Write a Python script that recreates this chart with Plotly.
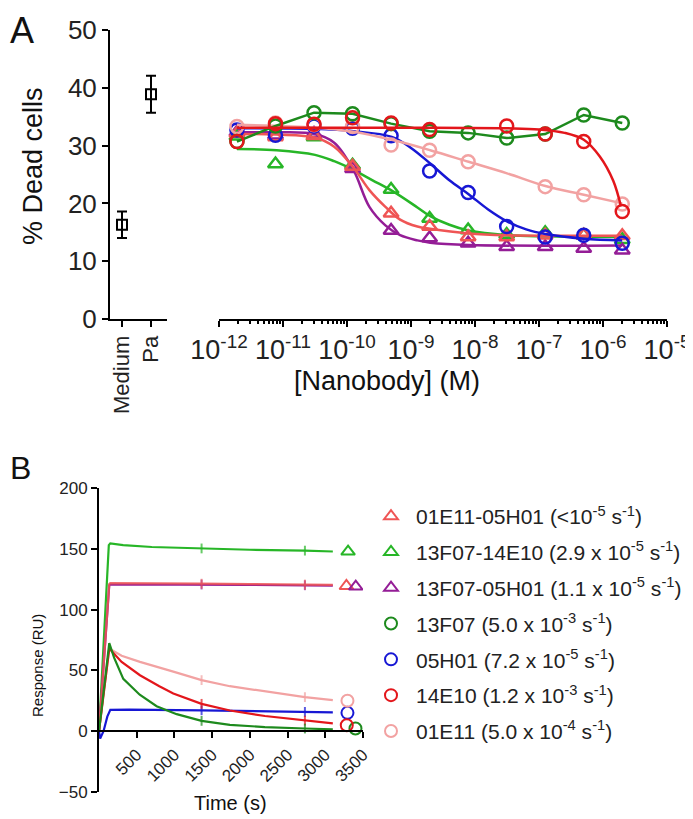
import numpy as np
import plotly.graph_objects as go

# the page body has an 8px margin, so the figure is drawn 8px smaller and
# reference pixel positions are shifted by that amount
OFF = 8
W, H = 693 - OFF, 819 - OFF
FONT = "Arial, 'Liberation Sans', sans-serif"


def px(x):
    return (x - OFF) / W


def py(y):
    return 1 - (y - OFF) / H


# ---------------- panel A data ----------------
controls = ["Medium", "Pa"]
control_mean = [16.3, 38.9]
control_err = [2.3, 3.2]

# 4-fold dilution series (M), low -> high
conc = [1.907e-12, 7.629e-12, 3.052e-11, 1.221e-10, 4.883e-10, 1.953e-9,
        7.8125e-9, 3.125e-8, 1.25e-7, 5e-7, 2e-6]

dead_13F07 = [30.7, 33.4, 35.7, 35.5, 33.8, 32.5, 32.2, 31.3, 32.0, 35.3, 33.9]
dead_14E10 = [30.7, 33.8, 33.7, 34.8, 33.9, 32.8, None, 33.4, 32.0, 30.7, 18.6]
dead_01E11 = [33.3, 33.9, 33.6, 33.3, 30.1, 29.2, 27.2, None, 22.9, 21.5, 19.9]
dead_05H01 = [32.7, 31.8, 33.4, 33.0, 31.7, 25.6, 21.9, 16.0, 14.2, 14.5, 13.1]
dead_13F07_14E10 = [31.6, 26.8, 31.5, 26.6, 22.4, 17.4, 15.4, 14.6, 14.9, 14.5, 13.7]
dead_01E11_05H01 = [32.1, 31.5, 31.7, 26.4, 18.3, 16.0, 14.2, 14.2, 14.5, 14.5, 14.4]
dead_13F07_05H01 = [32.3, 31.8, 32.1, 26.0, 15.3, 14.0, 13.1, 12.5, 12.5, 12.2, 11.9]

# fitted curves (log10 M, % dead)
fit_14E10_logx = [-11.72, -9.0, -7.5, -7.0, -6.6, -6.3, -6.05, -5.84, -5.72]
fit_14E10_y = [33.1, 33.1, 33.0, 32.8, 32.2, 31.0, 28.1, 23.9, 19.5]
fit_01E11_logx = [-11.72, -10.5, -9.9, -9.3, -8.7, -8.1, -7.5, -6.9, -6.3, -5.7]
fit_01E11_y = [33.6, 33.1, 32.4, 31.0, 29.2, 27.2, 25.2, 23.0, 21.5, 20.0]
fit_05H01_logx = [-11.72, -10.5, -9.9, -9.3, -9.0, -8.7, -8.4, -8.1, -7.8, -7.5,
                  -7.2, -6.9, -6.3, -5.7]
fit_05H01_y = [33.0, 32.9, 32.5, 31.5, 29.6, 26.9, 24.0, 21.6, 19.0, 16.9,
               15.5, 14.7, 13.9, 13.6]
fit_13F07_14E10_logx = [-11.72, -11.1, -10.5, -10.2, -9.9, -9.6, -9.3, -8.9,
                        -8.7, -8.4, -8.1, -7.5, -6.9, -5.7]
fit_13F07_14E10_y = [29.4, 29.2, 28.4, 27.3, 25.8, 24.0, 22.2, 19.3,
                     17.8, 16.3, 15.3, 14.5, 14.3, 14.2]
fit_01E11_05H01_logx = [-11.72, -11.1, -10.5, -10.2, -9.9, -9.65, -9.4, -9.17,
                        -8.9, -8.7, -8.1, -7.5, -5.7]
fit_01E11_05H01_y = [32.0, 31.9, 31.4, 29.8, 26.2, 22.3, 19.4, 17.2,
                     16.0, 15.6, 14.8, 14.5, 14.4]
fit_13F07_05H01_logx = [-11.72, -11.1, -10.5, -10.2, -9.9, -9.65, -9.4, -9.17,
                        -8.9, -8.7, -8.1, -5.7]
fit_13F07_05H01_y = [32.3, 32.3, 32.0, 30.5, 25.8, 19.4, 16.2, 14.5,
                     13.6, 13.2, 12.8, 12.7]

# ---------------- panel B data ----------------
t_13F07_14E10 = [0, 130, 150, 320, 700, 1360, 2000, 2730, 3100]
ru_13F07_14E10 = [0, 153.0, 154.5, 153.0, 151.5, 150.3, 149.2, 148.5, 147.8]
t_13F07_05H01 = [0, 136, 150, 400, 1360, 2000, 2730, 3100]
ru_13F07_05H01 = [0, 120.0, 120.8, 120.8, 120.6, 120.3, 120.0, 119.7]
t_01E11_05H01 = [0, 136, 150, 400, 1360, 2000, 2730, 3100]
ru_01E11_05H01 = [0, 121.0, 121.8, 121.6, 121.3, 121.0, 120.6, 120.3]
t_13F07 = [0, 136, 200, 322, 540, 764, 1030, 1360, 1735, 2200, 2730, 3100]
ru_13F07 = [0, 72.5, 60.5, 43.0, 30.0, 20.5, 14.0, 8.5, 5.2, 3.4, 2.2, 1.5]
t_14E10 = [0, 136, 300, 543, 800, 985, 1360, 1735, 2200, 2730, 3100]
ru_14E10 = [0, 68.0, 57.0, 46.0, 37.0, 31.0, 22.5, 17.0, 12.5, 8.7, 6.5]
t_01E11 = [0, 136, 300, 543, 985, 1360, 1735, 2177, 2730, 3100]
ru_01E11 = [0, 68.0, 62.0, 57.0, 49.0, 42.0, 37.0, 33.0, 28.0, 25.5]
t_05H01 = [0, 15, 60, 110, 150, 400, 1360, 2000, 2730, 3100]
ru_05H01 = [0, -6.0, 0.0, 12.0, 17.5, 17.8, 17.2, 16.6, 15.9, 15.5]
tick_times = [1360, 2730]

legend_names = [
    "01E11-05H01 (&lt;10<sup>-5</sup> s<sup>-1</sup>)",
    "13F07-14E10 (2.9 x 10<sup>-5</sup> s<sup>-1</sup>)",
    "13F07-05H01 (1.1 x 10<sup>-5</sup> s<sup>-1</sup>)",
    "13F07 (5.0 x 10<sup>-3</sup> s<sup>-1</sup>)",
    "05H01 (7.2 x 10<sup>-5</sup> s<sup>-1</sup>)",
    "14E10 (1.2 x 10<sup>-3</sup> s<sup>-1</sup>)",
    "01E11 (5.0 x 10<sup>-4</sup> s<sup>-1</sup>)",
]
end_t = [3280, 3302, 3404, 3400, 3294, 3285, 3294]
end_ru = [119.4, 147.7, 118.9, 2.2, 15.1, 4.9, 25.0]

C_SALMON = "#ef5555"
C_GREEN = "#27b627"
C_PURPLE = "#941d96"
C_DKGREEN = "#1d8a1d"
C_BLUE = "#1717d4"
C_RED = "#e3161b"
C_PINK = "#f2a2a2"

fig = go.Figure()

# controls
fig.add_scatter(x=controls, y=control_mean, mode="markers", xaxis="x", yaxis="y",
                marker=dict(symbol="square-open", size=10, color="black", line=dict(width=2)),
                error_y=dict(type="data", array=control_err, color="black", thickness=2, width=5),
                showlegend=False)

conc_series = [
    (dead_13F07_14E10, fit_13F07_14E10_logx, fit_13F07_14E10_y, C_GREEN, "triangle-up-open"),
    (dead_13F07_05H01, fit_13F07_05H01_logx, fit_13F07_05H01_y, C_PURPLE, "triangle-up-open"),
    (dead_01E11_05H01, fit_01E11_05H01_logx, fit_01E11_05H01_y, C_SALMON, "triangle-up-open"),
    (dead_05H01, fit_05H01_logx, fit_05H01_y, C_BLUE, "circle-open"),
    (dead_01E11, fit_01E11_logx, fit_01E11_y, C_PINK, "circle-open"),
    (dead_13F07, None, None, C_DKGREEN, "circle-open"),
    (dead_14E10, fit_14E10_logx, fit_14E10_y, C_RED, "circle-open"),
]
for vals, fx, fy, col, sym in conc_series:
    if fx is None:
        fig.add_scatter(x=conc, y=vals, mode="lines+markers", xaxis="x2", yaxis="y",
                        line=dict(color=col, width=2.5), connectgaps=True,
                        marker=dict(symbol=sym, size=13, color=col, line=dict(width=2.5)),
                        showlegend=False)
    else:
        fig.add_scatter(x=np.power(10.0, fx), y=fy, mode="lines", xaxis="x2", yaxis="y",
                        line=dict(color=col, width=2.5, shape="spline"), showlegend=False)
        fig.add_scatter(x=conc, y=vals, mode="markers", xaxis="x2", yaxis="y",
                        marker=dict(symbol=sym, size=13, color=col, line=dict(width=2.5)),
                        showlegend=False)

# sensorgrams
sensor = [
    (t_13F07_14E10, ru_13F07_14E10, C_GREEN, 1.0),
    (t_13F07_05H01, ru_13F07_05H01, C_PURPLE, 1.0),
    (t_01E11_05H01, ru_01E11_05H01, C_SALMON, 0.85),
    (t_01E11, ru_01E11, C_PINK, 1.0),
    (t_05H01, ru_05H01, C_BLUE, 1.0),
    (t_14E10, ru_14E10, C_RED, 1.0),
    (t_13F07, ru_13F07, C_DKGREEN, 1.0),
]
for t, ru, col, op in sensor:
    sizes = [7 if tt in tick_times else 0 for tt in t]
    fig.add_scatter(x=t, y=ru, mode="lines+markers", xaxis="x3", yaxis="y2", opacity=op,
                    line=dict(color=col, width=2.2),
                    marker=dict(symbol="line-ns", size=sizes, color=col, line=dict(width=2, color=col)),
                    showlegend=False)

end_cols = [C_SALMON, C_GREEN, C_PURPLE, C_DKGREEN, C_BLUE, C_RED, C_PINK]
end_syms = ["triangle-up-open"] * 3 + ["circle-open"] * 4
for i, name in enumerate(legend_names):
    fig.add_scatter(x=[end_t[i]], y=[end_ru[i]], mode="markers", xaxis="x3", yaxis="y2",
                    name=name, legendgroup=f"g{i}",
                    marker=dict(symbol=end_syms[i], size=12, color=end_cols[i],
                                line=dict(width=2, color=end_cols[i])))

axis_common = dict(showline=True, linecolor="black", linewidth=2, ticks="outside",
                   ticklen=6, tickwidth=2, tickcolor="black", showgrid=False, zeroline=False,
                   automargin=False)

# panel B axis placement
b_dom = [py(792), py(488)]
b_rng = [-50, 200]
b_zero = b_dom[0] + (0 - b_rng[0]) / (b_rng[1] - b_rng[0]) * (b_dom[1] - b_dom[0])

fig.update_layout(
    width=W, height=H, margin=dict(l=0, r=0, t=0, b=0, autoexpand=False),
    paper_bgcolor="white", plot_bgcolor="white",
    font=dict(family=FONT, color="#222222"),
    xaxis=dict(**axis_common, domain=[px(110), px(167)], range=[-0.414, 1.552], type="category",
               anchor="y", tickangle=-90, tickfont=dict(size=22)),
    xaxis2=dict(**axis_common, domain=[px(219), px(667)], type="log", range=[-12, -5], anchor="y",
                tickvals=[10.0 ** e for e in range(-12, -4)],
                ticktext=[f"10<sup>{e}</sup>" for e in range(-12, -4)],
                tickangle=0, tickfont=dict(size=27),
                minor=dict(ticks="outside", ticklen=3, tickwidth=1.5, tickcolor="black",
                           tickvals=[m * 10.0 ** e for e in range(-12, -5) for m in range(2, 10)])),
    yaxis=dict(**axis_common, domain=[py(319), py(30)], range=[0, 50], dtick=10,
               anchor="x", tickfont=dict(size=26)),
    xaxis3=dict(**axis_common, domain=[px(99), px(363)], range=[0, 3500], anchor="free",
                position=b_zero, tickvals=[500, 1000, 1500, 2000, 2500, 3000, 3500],
                tickangle=-45, tickfont=dict(size=17)),
    yaxis2=dict(**axis_common, domain=b_dom, range=b_rng, dtick=50, anchor="x3",
                tickfont=dict(size=17)),
    legend=dict(x=px(366), y=py(496), xanchor="left", yanchor="top", itemwidth=40,
                font=dict(size=21, color="#222222"), tracegroupgap=5.5, traceorder="grouped",
                bgcolor="rgba(0,0,0,0)"),
)

annots = [
    dict(text="A", x=8, y=8, size=36, anchor="left", yanchor="top"),
    dict(text="B", x=8, y=468, size=32, anchor="left"),
    dict(text="% Dead cells", x=33, y=166, size=27, angle=-90),
    dict(text="[Nanobody] (M)", x=387, y=381, size=27),
    dict(text="Response (RU)", x=37, y=666, size=15, angle=-90),
    dict(text="Time (s)", x=230, y=803, size=20),
]
for a in annots:
    fig.add_annotation(text=a["text"], x=px(a["x"]), y=py(a["y"]), xref="paper", yref="paper",
                       showarrow=False, xanchor=a.get("anchor", "center"),
                       yanchor=a.get("yanchor", "middle"),
                       textangle=a.get("angle", 0),
                       font=dict(size=a["size"], family=FONT, color="#111111"))

fig.write_html("out.html")
